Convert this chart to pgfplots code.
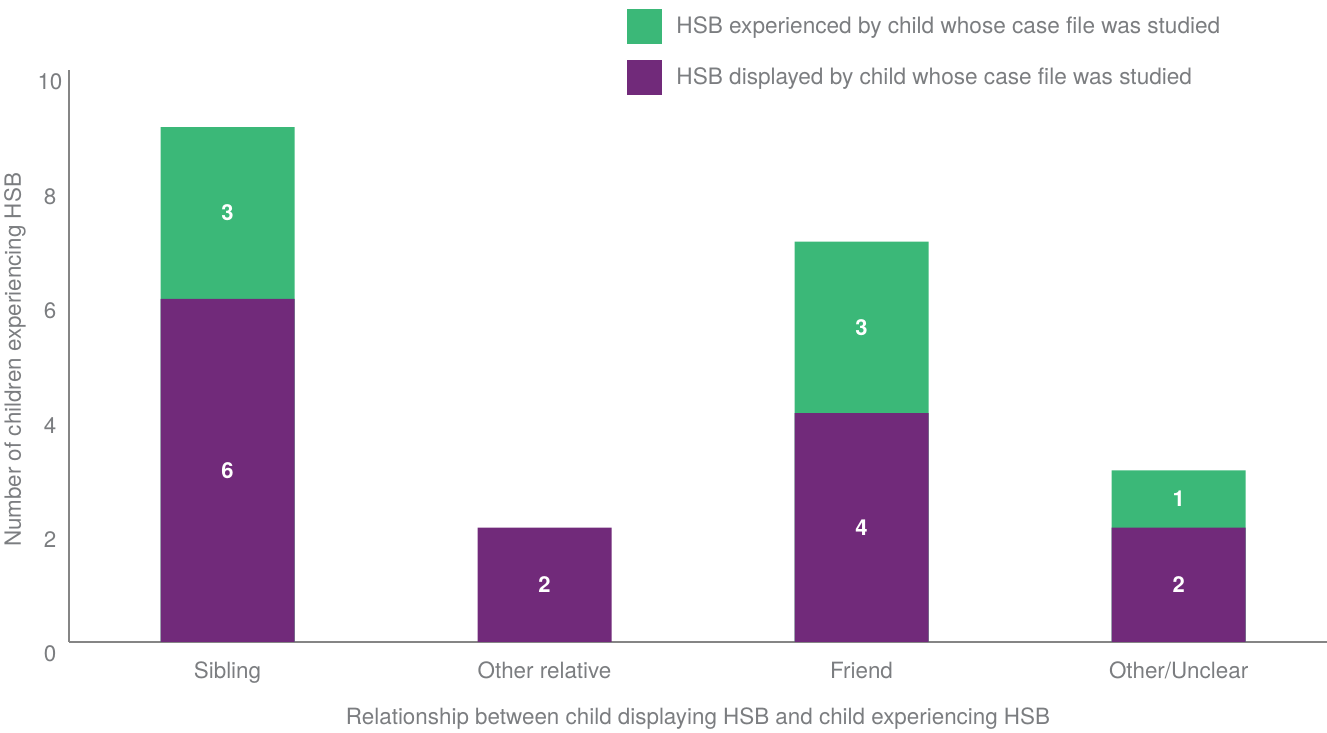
\documentclass[border=0pt]{standalone}
\usepackage{pgfplots}
\pgfplotsset{compat=1.18}
\usepackage{fontspec}
\setmainfont{TeX Gyre Heros}
\definecolor{hsbgreen}{HTML}{3BB878}
\definecolor{hsbpurple}{HTML}{712A7A}
\definecolor{textgray}{HTML}{7B7D80}
\definecolor{axisgray}{HTML}{858585}
\begin{document}
\begin{tikzpicture}
\begin{axis}[
    at={(0,0)}, anchor=south west,
    scale only axis,
    width=629pt, height=286pt,
    xmin=-0.5, xmax=3.468,
    ymin=0, ymax=10,
    axis x line*=bottom, axis y line*=left,
    axis line style={axisgray, line width=0.8pt},
    major tick length=0pt,
    xtick={0,1,2,3},
    xticklabels={Sibling, Other relative, Friend, Other/Unclear},
    ytick={0,2,4,6,8,10},
    /pgf/number format/assume math mode=true,
    tick label style={text=textgray, font=\fontsize{11.2}{13}\selectfont},
    xticklabel style={yshift=-6.5pt},
    yticklabel style={anchor=center, xshift=-9.5pt, yshift=-6pt},
    xlabel={Relationship between child displaying HSB and child experiencing HSB},
    ylabel={Number of children experiencing HSB},
    label style={text=textgray, font=\fontsize{11.2}{13}\selectfont},
    xlabel style={at={(axis description cs:0.5,-0.1346)}, anchor=center},
    ylabel style={at={(axis description cs:-0.0429,0.493)}, anchor=center},
    legend style={at={(axis description cs:0.4436,1.108)}, anchor=north west,
        draw=none, fill=none, inner sep=0pt, row sep=8pt,
        font=\fontsize{11.3}{13}\selectfont, text=textgray,
        nodes={inner sep=0pt}},
    legend cell align=left,
    legend image code/.code={\fill[#1] (0pt,-8.75pt) rectangle (17.5pt,8.75pt); \path (24.5pt,0pt);},
    every node near coord/.style={anchor=center, text=white, font=\fontsize{11}{13}\selectfont\bfseries},
]
% totals (green shows above purple)
\addplot[ybar, bar width=67pt, bar shift=0pt, fill=hsbgreen, draw=none]
    coordinates {(0,9) (1,0) (2,7) (3,3)};
\addlegendentry{HSB experienced by child whose case file was studied}
\addplot[ybar, bar width=67pt, bar shift=0pt, fill=hsbpurple, draw=none]
    coordinates {(0,6) (1,2) (2,4) (3,2)};
\addlegendentry{HSB displayed by child whose case file was studied}
% segment labels
\addplot[draw=none, mark=none, forget plot, nodes near coords, point meta=explicit symbolic]
    coordinates {(0,3) [6] (0,7.5) [3] (1,1) [2] (2,2) [4] (2,5.5) [3] (3,1) [2] (3,2.5) [1]};
\end{axis}
\pgfresetboundingbox
\path (-34.5pt,-45.5pt) rectangle (629pt,321pt);
\end{tikzpicture}
\end{document}
